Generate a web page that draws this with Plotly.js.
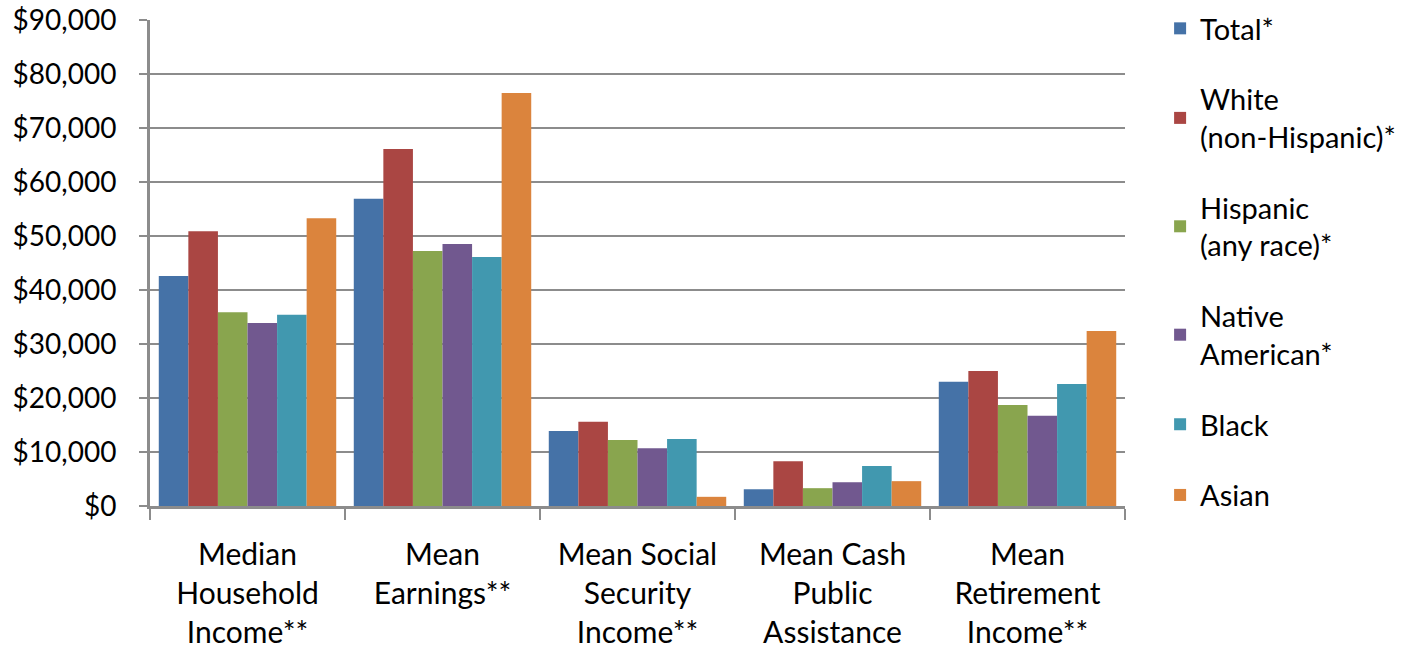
<!DOCTYPE html>
<html>
<head>
<meta charset="utf-8">
<script src="https://cdn.plot.ly/plotly-3.0.1.min.js"></script>
<style>html,body{margin:0;padding:0;background:#fff;}#chart{width:1421px;height:653px;}</style>
</head>
<body>
<div id="chart"></div>
<script>
const categories = [
  "Median<br>Household<br>Income**",
  "Mean<br>Earnings**",
  "Mean Social<br>Security<br>Income**",
  "Mean Cash<br>Public<br>Assistance",
  "Mean<br>Retirement<br>Income**"
];
const seriesNames = ["Total*", "White<br>(non-Hispanic)*", "Hispanic<br>(any race)*", "Native<br>American*", "Black", "Asian"];
const total    = [42600, 56900, 13900, 3100, 23000];
const white    = [50900, 66100, 15600, 8300, 25000];
const hispanic = [35900, 47200, 12200, 3300, 18700];
const native   = [33900, 48500, 10700, 4400, 16700];
const black    = [35400, 46100, 12400, 7400, 22600];
const asian    = [53300, 76500, 1700, 4600, 32400];
const yTicks = [0, 10000, 20000, 30000, 40000, 50000, 60000, 70000, 80000, 90000];
const yTickText = ["$0", "$10,000", "$20,000", "$30,000", "$40,000", "$50,000", "$60,000", "$70,000", "$80,000", "$90,000"];

const colors = ["#4572a7", "#aa4643", "#89a54e", "#71588f", "#4198af", "#db843d"];
const allSeries = [total, white, hispanic, native, black, asian];

const traces = allSeries.map((vals, i) => ({
  type: "bar",
  x: categories,
  y: vals,
  name: seriesNames[i],
  legendgroup: "g" + i,
  marker: {color: colors[i], line: {width: 0}},
  hoverinfo: "y+name"
}));

const fam = "Lato, Open Sans, sans-serif";

const layout = {
  width: 1421, height: 653,
  margin: {l: 150, r: 296, t: 20, b: 147, pad: 0, autoexpand: false},
  paper_bgcolor: "#fff", plot_bgcolor: "#fff",
  font: {family: fam, size: 29, color: "#000"},
  barmode: "group",
  bargap: 0.09,
  bargroupgap: 0,
  showlegend: true,
  legend: {
    x: 1.036, xanchor: "left", y: 1.035, yanchor: "top",
    font: {family: fam, size: 29, color: "#000"},
    traceorder: "grouped",
    tracegroupgap: 30,
    itemwidth: 30,
    maxheight: 1000,
    bgcolor: "rgba(0,0,0,0)"
  },
  xaxis: {
    type: "category",
    tickson: "boundaries",
    ticks: "outside", ticklen: 11, tickwidth: 2, tickcolor: "#8c8c8c",
    showline: true, linecolor: "#8c8c8c", linewidth: 3,
    showgrid: false,
    tickfont: {family: fam, size: 30, color: "#000"},
    ticklabelstandoff: 20,
    automargin: false
  },
  yaxis: {
    range: [0, 90000],
    tickvals: yTicks,
    ticktext: yTickText,
    ticks: "outside", ticklen: 8, tickwidth: 2, tickcolor: "#8c8c8c",
    showline: true, linecolor: "#8c8c8c", linewidth: 3,
    showgrid: true, gridcolor: "#8c8c8c", gridwidth: 2.5,
    zeroline: false,
    tickfont: {family: fam, size: 28, color: "#000"},
    ticklabelstandoff: 17,
    automargin: false
  }
};

Plotly.newPlot("chart", traces, layout, {displayModeBar: false, staticPlot: true});
</script>
</body>
</html>
